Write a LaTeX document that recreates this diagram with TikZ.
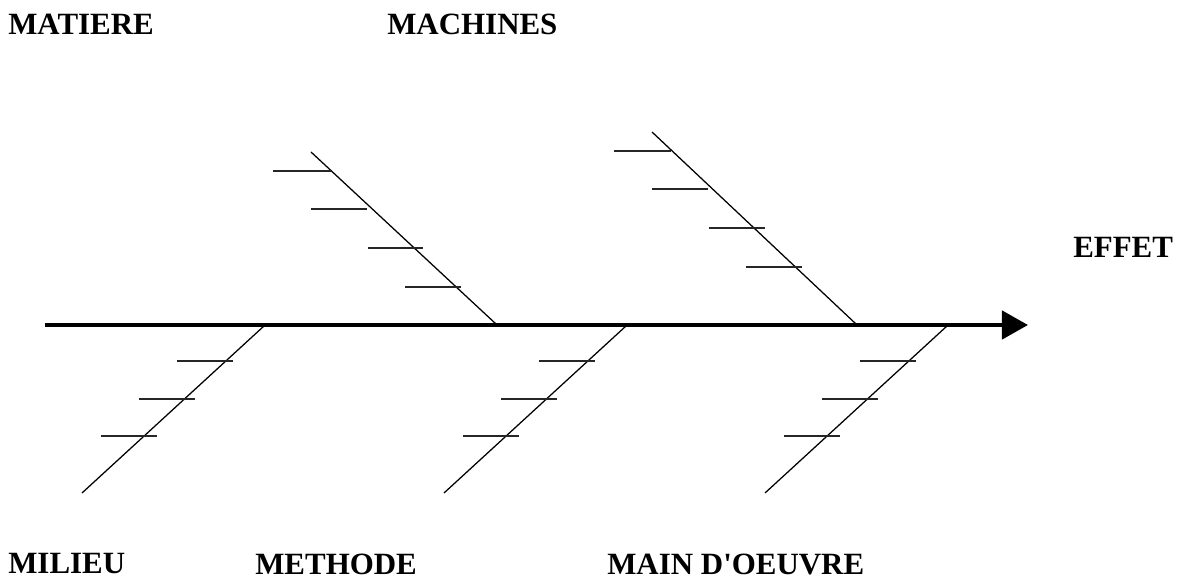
\documentclass[tikz,border=0pt]{standalone}
\usepackage{fontspec}
\setmainfont{Liberation Serif}[Ligatures=TeXOff]
\usetikzlibrary{arrows.meta}
\begin{document}
\begin{tikzpicture}[x=0.025cm,y=-0.025cm,
  lab/.style={font=\fontsize{22}{26}\selectfont\bfseries, anchor=west, inner sep=0pt},
  spine/.style={line width=3pt, -{Triangle[length=18.5pt,width=20pt]}},
  bone/.style={line width=0.9pt},
  rib/.style={line width=0.8pt, black!85}]
\useasboundingbox (0,0) rectangle (1185,582);

% labels
\node[lab] (matiere)  at (8,24)    {MATIERE};
\node[lab] (machines) at (387,24)  {MACHINES};
\node[lab] (effet)    at (1073,247) {EFFET};
\node[lab] (milieu)   at (8,564)   {MILIEU};
\node[lab] (methode)  at (255,564) {METHODE};
\node[lab] (main)     at (607,564) {MAIN D'OEUVRE};

% spine
\coordinate (s0) at (45,325);
\coordinate (s1) at (1028,325);
\draw[spine] (s0) -- (s1);

% upper branch 1
\coordinate (u1t) at (311,152);
\coordinate (u1b) at (496,324);
\draw[bone] (u1t) -- (u1b);
\coordinate (u1a1) at (273,171); \coordinate (u1a2) at (331,171);
\coordinate (u1b1) at (311,209); \coordinate (u1b2) at (367,209);
\coordinate (u1c1) at (368,248); \coordinate (u1c2) at (423,248);
\coordinate (u1d1) at (405,287); \coordinate (u1d2) at (461,287);
\draw[rib] (u1a1) -- (u1a2);
\draw[rib] (u1b1) -- (u1b2);
\draw[rib] (u1c1) -- (u1c2);
\draw[rib] (u1d1) -- (u1d2);

% upper branch 2
\coordinate (u2t) at (652,132);
\coordinate (u2b) at (856,324);
\draw[bone] (u2t) -- (u2b);
\coordinate (u2a1) at (614,151); \coordinate (u2a2) at (671,151);
\coordinate (u2b1) at (652,189); \coordinate (u2b2) at (708,189);
\coordinate (u2c1) at (709,228); \coordinate (u2c2) at (765,228);
\coordinate (u2d1) at (746,267); \coordinate (u2d2) at (802,267);
\draw[rib] (u2a1) -- (u2a2);
\draw[rib] (u2b1) -- (u2b2);
\draw[rib] (u2c1) -- (u2c2);
\draw[rib] (u2d1) -- (u2d2);

% lower branches
\foreach \k/\dx in {1/0, 2/362, 3/683} {
  \coordinate (l\k t) at ({264+\dx},326);
  \coordinate (l\k b) at ({82+\dx},493);
  \coordinate (l\k a1) at ({177+\dx},361); \coordinate (l\k a2) at ({233+\dx},361);
  \coordinate (l\k b1) at ({139+\dx},399); \coordinate (l\k b2) at ({195+\dx},399);
  \coordinate (l\k c1) at ({101+\dx},436); \coordinate (l\k c2) at ({157+\dx},436);
  \draw[bone] (l\k t) -- (l\k b);
  \draw[rib] (l\k a1) -- (l\k a2);
  \draw[rib] (l\k b1) -- (l\k b2);
  \draw[rib] (l\k c1) -- (l\k c2);
}
\end{tikzpicture}
\end{document}
